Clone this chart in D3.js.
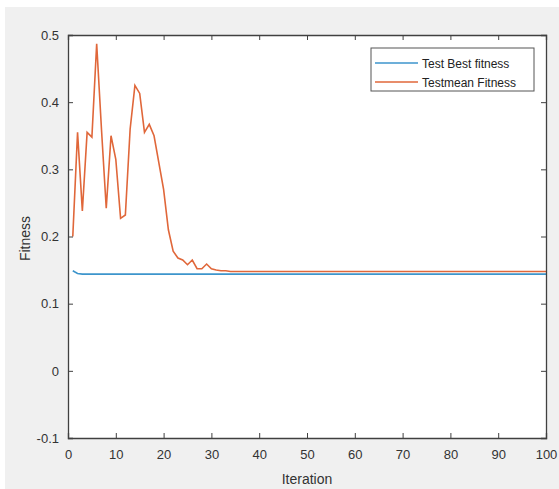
<!DOCTYPE html>
<html>
<head>
<meta charset="utf-8">
<script src="https://cdn.jsdelivr.net/npm/d3@7"></script>
<style>
  body { margin: 0; background: #fff; }
  text { font-family: "Liberation Sans", Arial, sans-serif; }
</style>
</head>
<body>
<script>
// data: [iteration, fitness]
var bestFitness = [
  [1, 0.149], [2, 0.145], [3, 0.144], [100, 0.144]
];
var meanFitness = [
  [1, 0.200], [2, 0.355], [3, 0.238], [4, 0.355], [5, 0.348],
  [6, 0.487], [7, 0.360], [8, 0.242], [9, 0.350], [10, 0.315],
  [11, 0.227], [12, 0.232], [13, 0.360], [14, 0.425], [15, 0.413],
  [16, 0.355], [17, 0.367], [18, 0.350], [19, 0.310], [20, 0.270],
  [21, 0.210], [22, 0.178], [23, 0.168], [24, 0.165], [25, 0.158],
  [26, 0.165], [27, 0.152], [28, 0.152], [29, 0.159], [30, 0.152],
  [31, 0.150], [32, 0.149], [33, 0.149], [34, 0.148], [100, 0.148]
];
var xTicks = [0, 10, 20, 30, 40, 50, 60, 70, 80, 90, 100];
var yTicks = [-0.1, 0, 0.1, 0.2, 0.3, 0.4, 0.5];
var yTickLabels = ["-0.1", "0", "0.1", "0.2", "0.3", "0.4", "0.5"];
var seriesNames = ["Test Best fitness", "Testmean Fitness"];

var w = 559, h = 489;
var padLeft = 68, padRight = 546, padTop = 35, padBottom = 438;
var axisColor = "#404040";
var colors = ["#3d95cc", "#e0673a"];

var svg = d3.select("body").append("svg")
  .attr("width", w).attr("height", h);

svg.append("rect")
  .attr("x", 5).attr("y", 7)
  .attr("width", w - 5).attr("height", h - 7)
  .attr("fill", "#f0f0f0");

svg.append("rect")
  .attr("x", padLeft).attr("y", padTop)
  .attr("width", padRight - padLeft).attr("height", padBottom - padTop)
  .attr("fill", "#fff");

var xScale = d3.scaleLinear().domain([0, 100]).range([padLeft, padRight]);
var yScale = d3.scaleLinear().domain([-0.1, 0.5]).range([padBottom, padTop]);

var fmtY = function(d, i){ return yTickLabels[i]; };

var line = d3.line()
  .x(function(d){ return xScale(d[0]); })
  .y(function(d){ return yScale(d[1]); });

svg.append("path").datum(bestFitness)
  .attr("d", line).attr("fill", "none")
  .attr("stroke", colors[0]).attr("stroke-width", 1.6);
svg.append("path").datum(meanFitness)
  .attr("d", line).attr("fill", "none")
  .attr("stroke", colors[1]).attr("stroke-width", 1.6);

// bottom axis with labels, ticks pointing in
var xAxis = svg.append("g")
  .attr("transform", "translate(0," + padBottom + ")")
  .call(d3.axisBottom(xScale).tickValues(xTicks).tickSize(-5).tickPadding(12).tickFormat(d3.format("d")));
// top axis, ticks only
var xAxisTop = svg.append("g")
  .attr("transform", "translate(0," + padTop + ")")
  .call(d3.axisTop(xScale).tickValues(xTicks).tickSize(-5).tickFormat(""));
var yAxis = svg.append("g")
  .attr("transform", "translate(" + padLeft + ",0)")
  .call(d3.axisLeft(yScale).tickValues(yTicks).tickSize(-5).tickPadding(9).tickFormat(fmtY));
var yAxisRight = svg.append("g")
  .attr("transform", "translate(" + padRight + ",0)")
  .call(d3.axisRight(yScale).tickValues(yTicks).tickSize(-5).tickFormat(""));

[xAxis, xAxisTop, yAxis, yAxisRight].forEach(function(g){
  g.select(".domain").attr("stroke", axisColor).attr("stroke-width", 1.3);
  g.selectAll(".tick line").attr("stroke", axisColor);
  g.selectAll(".tick text").attr("fill", "#333").style("font-size", "13px");
});

// axis titles
svg.append("text")
  .attr("x", (padLeft + padRight) / 2).attr("y", 484)
  .attr("text-anchor", "middle").attr("fill", "#333")
  .style("font-size", "14px").text("Iteration");
svg.append("text")
  .attr("transform", "translate(30," + ((padTop + padBottom) / 2 + 2) + ") rotate(-90)")
  .attr("text-anchor", "middle").attr("fill", "#333")
  .style("font-size", "14px").text("Fitness");

// legend
var legend = svg.append("g").attr("transform", "translate(371,48)");
legend.append("rect")
  .attr("width", 163).attr("height", 43)
  .attr("fill", "#fff").attr("stroke", "#555").attr("stroke-width", 1);
seriesNames.forEach(function(name, i){
  var yy = 15 + i * 19;
  legend.append("line")
    .attr("x1", 4).attr("x2", 47).attr("y1", yy).attr("y2", yy)
    .attr("stroke", colors[i]).attr("stroke-width", 1.6);
  legend.append("text")
    .attr("x", 51).attr("y", yy + 4.5)
    .attr("fill", "#222").style("font-size", "12px").text(name);
});
</script>
</body>
</html>
